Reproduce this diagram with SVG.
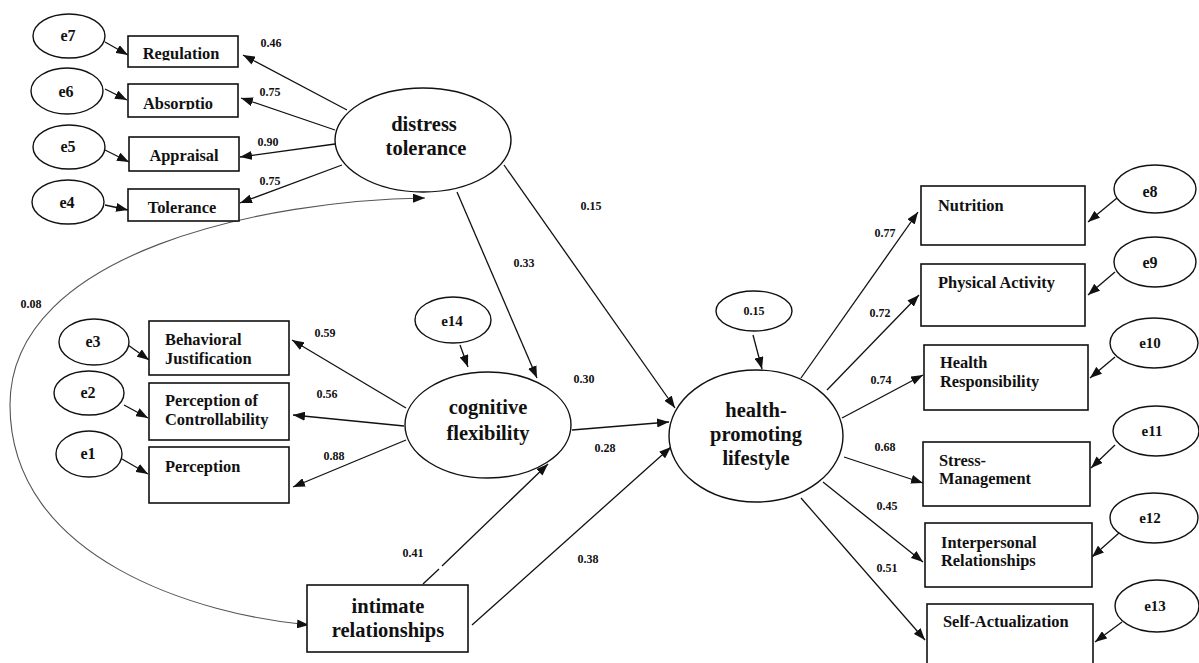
<svg xmlns="http://www.w3.org/2000/svg" width="1199" height="663" viewBox="0 0 1199 663">
<style>
  .bg{fill:#fff}
  .box{fill:#fff;stroke:#111;stroke-width:1.6}
  .ell{fill:#fff;stroke:#111;stroke-width:1.4}
  .t{font-family:"Liberation Serif","Times New Roman",serif;font-weight:bold;fill:#111}
  .big{font-size:20.5px;text-anchor:middle}
  .lbl{font-size:16.4px}
  .mid{text-anchor:middle}
  .err{font-size:16px;text-anchor:middle}
  .errs{font-size:15px;text-anchor:middle}
  .coef{font-size:12px;text-anchor:middle}
  .c{stroke:#111;stroke-width:1.3;fill:none;marker-end:url(#ah)}
  .p{stroke:#111;stroke-width:1.3;fill:none}
  .cov{stroke:#555;stroke-width:1.1;fill:none;marker-end:url(#ah);marker-start:url(#ahs)}
</style>
<defs>
  <marker id="ah" viewBox="0 0 12 9" refX="12" refY="4.5" markerWidth="12" markerHeight="9" markerUnits="userSpaceOnUse" orient="auto">
    <path d="M0,0 L12,4.5 L0,9 z" fill="#111"/>
  </marker>
  <marker id="ahs" viewBox="0 0 12 9" refX="12" refY="4.5" markerWidth="12" markerHeight="9" markerUnits="userSpaceOnUse" orient="auto-start-reverse">
    <path d="M0,0 L12,4.5 L0,9 z" fill="#111"/>
  </marker>
  <clipPath id="clipReg"><rect x="128" y="36" width="110" height="24.5"/></clipPath>
  <clipPath id="clipAbs"><rect x="128" y="84" width="110" height="25.5"/></clipPath>
</defs>
<rect class="bg" x="0" y="0" width="1199" height="663"/>

<g id="connectors">
  <line class="c" x1="105" y1="42" x2="128" y2="55"/>
  <line class="c" x1="105" y1="89" x2="127" y2="100"/>
  <line class="c" x1="105" y1="150" x2="129" y2="162"/>
  <line class="c" x1="105" y1="205" x2="128" y2="210"/>
  <line class="c" x1="347" y1="110" x2="243" y2="55"/>
  <line class="c" x1="335" y1="130" x2="241" y2="98"/>
  <line class="c" x1="335" y1="144" x2="240" y2="157"/>
  <line class="c" x1="342" y1="165" x2="240" y2="203"/>
  <path class="cov" d="M425,198 C270,200 10,250 10,405 C10,560 200,615 309,625"/>
  <line class="c" x1="457" y1="192" x2="537" y2="378"/>
  <line class="c" x1="504" y1="165" x2="675" y2="408"/>
  <line class="c" x1="460" y1="345" x2="468" y2="367"/>
  <line class="c" x1="128" y1="345" x2="149" y2="360"/>
  <line class="c" x1="124" y1="405" x2="148" y2="418"/>
  <line class="c" x1="122" y1="459" x2="148" y2="474"/>
  <line class="c" x1="406" y1="408" x2="292" y2="340"/>
  <line class="c" x1="404" y1="426" x2="293" y2="415"/>
  <line class="c" x1="406" y1="440" x2="293" y2="487"/>
  <line class="c" x1="572" y1="430" x2="669" y2="422"/>
  <line class="p" x1="423" y1="584" x2="439" y2="569"/>
  <line class="c" x1="442" y1="566" x2="548" y2="464"/>
  <line class="c" x1="472" y1="625" x2="671" y2="447"/>
  <line class="c" x1="753" y1="335" x2="762" y2="369"/>
  <line class="c" x1="801" y1="378" x2="918" y2="212"/>
  <line class="c" x1="827" y1="390" x2="919" y2="295"/>
  <line class="c" x1="842" y1="418" x2="923" y2="375"/>
  <line class="c" x1="844" y1="457" x2="923" y2="483"/>
  <line class="c" x1="823" y1="482" x2="923" y2="562"/>
  <line class="c" x1="801" y1="498" x2="925" y2="640"/>
  <line class="c" x1="1117" y1="198" x2="1088" y2="222"/>
  <line class="c" x1="1115" y1="272" x2="1088" y2="295"/>
  <line class="c" x1="1115" y1="357" x2="1090" y2="378"/>
  <line class="c" x1="1115" y1="445" x2="1091" y2="468"/>
  <line class="c" x1="1119" y1="533" x2="1092" y2="557"/>
  <line class="c" x1="1122" y1="622" x2="1095" y2="642"/>
</g>

<g id="coefficients">
  <text class="t coef" x="271" y="47">0.46</text>
  <text class="t coef" x="270" y="96">0.75</text>
  <text class="t coef" x="268" y="146">0.90</text>
  <text class="t coef" x="270" y="185">0.75</text>
  <text class="t coef" x="31" y="308">0.08</text>
  <text class="t coef" x="524" y="267">0.33</text>
  <text class="t coef" x="591" y="210">0.15</text>
  <text class="t coef" x="584" y="383">0.30</text>
  <text class="t coef" x="605" y="452">0.28</text>
  <text class="t coef" x="325" y="337">0.59</text>
  <text class="t coef" x="327" y="398">0.56</text>
  <text class="t coef" x="334" y="460">0.88</text>
  <text class="t coef" x="413" y="557">0.41</text>
  <text class="t coef" x="588" y="563">0.38</text>
  <text class="t coef" x="885" y="237">0.77</text>
  <text class="t coef" x="880" y="317">0.72</text>
  <text class="t coef" x="881" y="384">0.74</text>
  <text class="t coef" x="885" y="451">0.68</text>
  <text class="t coef" x="887" y="510">0.45</text>
  <text class="t coef" x="887" y="572">0.51</text>
</g>

<g id="distress-tolerance">
  <ellipse class="ell" cx="423" cy="140" rx="88" ry="52"/>
  <text class="t big" x="424" y="131">distress</text>
  <text class="t big" x="426" y="155">tolerance</text>
</g>
<g id="regulation">
  <rect class="box" x="128" y="36" width="110" height="31"/>
  <text class="t lbl mid" x="181" y="59" clip-path="url(#clipReg)">Regulation</text>
</g>
<g id="absorption">
  <rect class="box" x="128" y="84" width="110" height="33"/>
  <text class="t lbl mid" x="178" y="109" clip-path="url(#clipAbs)">Absorptio</text>
</g>
<g id="appraisal">
  <rect class="box" x="129" y="137" width="110" height="34"/>
  <text class="t lbl mid" x="184" y="161">Appraisal</text>
</g>
<g id="tolerance">
  <rect class="box" x="128" y="189" width="111" height="32"/>
  <text class="t lbl mid" x="182" y="213">Tolerance</text>
</g>
<g id="e7"><ellipse class="ell" cx="69" cy="36" rx="36" ry="22"/><text class="t err" x="68" y="41">e7</text></g>
<g id="e6"><ellipse class="ell" cx="67" cy="91" rx="36" ry="23"/><text class="t err" x="66" y="97">e6</text></g>
<g id="e5"><ellipse class="ell" cx="69" cy="147" rx="36" ry="22"/><text class="t err" x="68" y="152">e5</text></g>
<g id="e4"><ellipse class="ell" cx="68" cy="202" rx="36" ry="22"/><text class="t err" x="67" y="208">e4</text></g>

<g id="cognitive-flexibility">
  <ellipse class="ell" cx="488" cy="425" rx="83" ry="53"/>
  <text class="t big" x="488" y="414">cognitive</text>
  <text class="t big" x="488" y="440">flexibility</text>
</g>
<g id="e14"><ellipse class="ell" cx="453" cy="320" rx="38" ry="23"/><text class="t errs" x="452" y="326">e14</text></g>
<g id="behavioral-justification">
  <rect class="box" x="149" y="321" width="140" height="54"/>
  <text class="t lbl" x="165" y="345">Behavioral</text>
  <text class="t lbl" x="165" y="364">Justification</text>
</g>
<g id="perception-of-controllability">
  <rect class="box" x="149" y="383" width="140" height="57"/>
  <text class="t lbl" x="165" y="406">Perception of</text>
  <text class="t lbl" x="165" y="425">Controllability</text>
</g>
<g id="perception">
  <rect class="box" x="149" y="447" width="140" height="56"/>
  <text class="t lbl" x="165" y="472">Perception</text>
</g>
<g id="e3"><ellipse class="ell" cx="94" cy="342" rx="35" ry="23"/><text class="t err" x="93" y="347">e3</text></g>
<g id="e2"><ellipse class="ell" cx="89" cy="393" rx="35" ry="22"/><text class="t err" x="88" y="398">e2</text></g>
<g id="e1"><ellipse class="ell" cx="89" cy="454" rx="33" ry="23"/><text class="t err" x="88" y="459">e1</text></g>

<g id="intimate-relationships">
  <rect class="box" x="307" y="585" width="161" height="67"/>
  <text class="t big" x="388" y="613">intimate</text>
  <text class="t big" x="388" y="637">relationships</text>
</g>

<g id="health-promoting-lifestyle">
  <ellipse class="ell" cx="756" cy="436" rx="87" ry="66"/>
  <text class="t big" x="756" y="417">health-</text>
  <text class="t big" x="756" y="441">promoting</text>
  <text class="t big" x="756" y="465">lifestyle</text>
</g>
<g id="zeta"><ellipse class="ell" cx="754" cy="311" rx="38" ry="20"/><text class="t coef" x="754" y="315">0.15</text></g>

<g id="nutrition">
  <rect class="box" x="921" y="186" width="164" height="59"/>
  <text class="t lbl" x="938" y="211">Nutrition</text>
</g>
<g id="physical-activity">
  <rect class="box" x="921" y="264" width="164" height="62"/>
  <text class="t lbl" x="938" y="288">Physical Activity</text>
</g>
<g id="health-responsibility">
  <rect class="box" x="924" y="345" width="164" height="65"/>
  <text class="t lbl" x="940" y="368">Health</text>
  <text class="t lbl" x="940" y="387">Responsibility</text>
</g>
<g id="stress-management">
  <rect class="box" x="923" y="442" width="167" height="64"/>
  <text class="t lbl" x="939" y="466">Stress-</text>
  <text class="t lbl" x="939" y="484">Management</text>
</g>
<g id="interpersonal-relationships">
  <rect class="box" x="925" y="523" width="167" height="64"/>
  <text class="t lbl" x="941" y="548">Interpersonal</text>
  <text class="t lbl" x="941" y="566">Relationships</text>
</g>
<g id="self-actualization">
  <rect class="box" x="927" y="604" width="166" height="70"/>
  <text class="t lbl" x="943" y="627">Self-Actualization</text>
</g>
<g id="e8"><ellipse class="ell" cx="1155" cy="189" rx="41" ry="24"/><text class="t err" x="1150" y="197">e8</text></g>
<g id="e9"><ellipse class="ell" cx="1155" cy="262" rx="41" ry="25"/><text class="t err" x="1150" y="268">e9</text></g>
<g id="e10"><ellipse class="ell" cx="1154" cy="343" rx="44" ry="25"/><text class="t errs" x="1150" y="348">e10</text></g>
<g id="e11"><ellipse class="ell" cx="1156" cy="431" rx="43" ry="25"/><text class="t errs" x="1152" y="436">e11</text></g>
<g id="e12"><ellipse class="ell" cx="1154" cy="518" rx="44" ry="25"/><text class="t errs" x="1150" y="523">e12</text></g>
<g id="e13"><ellipse class="ell" cx="1157" cy="606" rx="42" ry="26"/><text class="t errs" x="1155" y="611">e13</text></g>
</svg>
